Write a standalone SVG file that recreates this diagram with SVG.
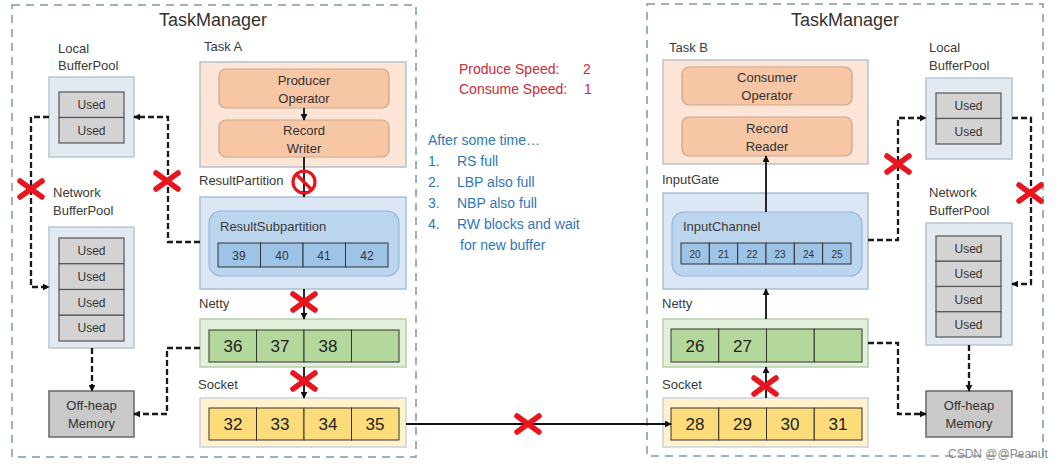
<svg xmlns="http://www.w3.org/2000/svg" width="1062" height="469" viewBox="0 0 1062 469">
<defs>
<marker id="ah" viewBox="0 0 10 10" refX="9" refY="5" markerWidth="7" markerHeight="7" markerUnits="userSpaceOnUse" orient="auto"><path d="M0,0 L10,5 L0,10 z" fill="#111"/></marker>
<g id="xmark"><path d="M-11,-8 L11,8 M-11,8 L11,-8" stroke="#e8151f" stroke-width="5.5" stroke-linecap="round"/></g>
</defs>
<style>
text{font-family:"Liberation Sans",Arial,sans-serif;fill:#333}
.tm{fill:none;stroke:#7e97ad;stroke-width:1.5;stroke-dasharray:8,6}
.title{font-size:18px;fill:#333}
.lbl{font-size:13px;fill:#3a3a3a}
.pool{fill:#e3e9f1;stroke:#b7c5d4;stroke-width:1.5}
.used{fill:#d3d3d3;stroke:#555;stroke-width:1.2}
.ut{font-size:12px;text-anchor:middle;fill:#333}
.task{fill:#fce4d6;stroke:#b8c2cc;stroke-width:1.5}
.op{fill:#f7c6a5;stroke:#c9a58c;stroke-width:1.2}
.opt{font-size:13px;text-anchor:middle;fill:#333}
.rp{fill:#dce6f4;stroke:#a8bfd6;stroke-width:1.5}
.rs{fill:#bcd5ee;stroke:#93b6d8;stroke-width:1.2}
.rc{fill:#9dc3e6;stroke:#333;stroke-width:1}
.rct{font-size:12px;text-anchor:middle;fill:#333}
.ic{font-size:10px;text-anchor:middle;fill:#333}
.nb{fill:#e2efda;stroke:#b6cfa7;stroke-width:1.5}
.nc{fill:#b4d89c;stroke:#333;stroke-width:1}
.sb{fill:#fff2cc;stroke:#c8d2dc;stroke-width:1.5}
.sc{fill:#fcdc7a;stroke:#333;stroke-width:1}
.num{font-size:17px;text-anchor:middle;fill:#222}
.off{fill:#c9c9c9;stroke:#666;stroke-width:1.5}
.offt{font-size:13px;text-anchor:middle;fill:#333}
.solid{fill:none;stroke:#111;stroke-width:1.8}
.dash{fill:none;stroke:#1a1a1a;stroke-width:2.3;stroke-dasharray:6,3}
.red{font-size:14px;fill:#cc2a36}
.blue{font-size:14px;fill:#2f77b8}
</style>
<rect width="1062" height="469" fill="#fff"/>

<g id="taskmanagerA">
<rect class="tm" x="12" y="5" width="404" height="452"/>
<text class="title" x="213" y="26" text-anchor="middle">TaskManager</text>
</g>
<g id="taskmanagerB">
<rect class="tm" x="647" y="4" width="396" height="452"/>
<text class="title" x="845" y="26" text-anchor="middle">TaskManager</text>
</g>

<g id="localBufferPoolA">
<text class="lbl" x="58" y="53">Local</text>
<text class="lbl" x="58" y="70">BufferPool</text>
<rect class="pool" x="49" y="77" width="85" height="80"/>
<rect class="used" x="59" y="92" width="65" height="25.5"/>
<rect class="used" x="59" y="117.5" width="65" height="25.5"/>
<text class="ut" x="91.5" y="109">Used</text>
<text class="ut" x="91.5" y="134.5">Used</text>
</g>

<g id="networkBufferPoolA">
<text class="lbl" x="53" y="197">Network</text>
<text class="lbl" x="53" y="215">BufferPool</text>
<rect class="pool" x="49" y="227" width="85" height="121"/>
<rect class="used" x="59" y="238" width="65" height="25.75"/>
<rect class="used" x="59" y="263.75" width="65" height="25.75"/>
<rect class="used" x="59" y="289.5" width="65" height="25.75"/>
<rect class="used" x="59" y="315.25" width="65" height="25.75"/>
<text class="ut" x="91.5" y="255">Used</text>
<text class="ut" x="91.5" y="281">Used</text>
<text class="ut" x="91.5" y="306.5">Used</text>
<text class="ut" x="91.5" y="332">Used</text>
</g>

<g id="offHeapA">
<rect class="off" x="49" y="391" width="85" height="46"/>
<text class="offt" x="91.5" y="410">Off-heap</text>
<text class="offt" x="91.5" y="428">Memory</text>
</g>

<g id="taskA">
<text class="lbl" x="204" y="51">Task A</text>
<rect class="task" x="200" y="62" width="206" height="105"/>
<rect class="op" x="219" y="69" width="170" height="39" rx="7"/>
<text class="opt" x="304" y="85">Producer</text>
<text class="opt" x="304" y="103">Operator</text>
<rect class="op" x="219" y="120" width="170" height="37" rx="7"/>
<text class="opt" x="304" y="135">Record</text>
<text class="opt" x="304" y="153">Writer</text>
</g>

<g id="resultPartitionA">
<text class="lbl" x="199" y="185">ResultPartition</text>
<rect class="rp" x="200" y="197" width="206" height="92"/>
<rect class="rs" x="209" y="211" width="190" height="65" rx="12"/>
<text class="lbl" x="220" y="231">ResultSubpartition</text>
<rect class="rc" x="218" y="243" width="42.5" height="24"/>
<rect class="rc" x="260.5" y="243" width="42.5" height="24"/>
<rect class="rc" x="303" y="243" width="42.5" height="24"/>
<rect class="rc" x="345.5" y="243" width="42.5" height="24"/>
<text class="rct" x="239" y="259.5">39</text>
<text class="rct" x="282" y="259.5">40</text>
<text class="rct" x="324" y="259.5">41</text>
<text class="rct" x="367" y="259.5">42</text>
</g>

<g id="nettyA">
<text class="lbl" x="199" y="308">Netty</text>
<rect class="nb" x="200" y="319" width="206" height="48"/>
<rect class="nc" x="209" y="330" width="47.5" height="32"/>
<rect class="nc" x="256.5" y="330" width="47.5" height="32"/>
<rect class="nc" x="304" y="330" width="47.5" height="32"/>
<rect class="nc" x="351.5" y="330" width="47.5" height="32"/>
<text class="num" x="233" y="352">36</text>
<text class="num" x="280" y="352">37</text>
<text class="num" x="328" y="352">38</text>
</g>

<g id="socketA">
<text class="lbl" x="198" y="389">Socket</text>
<rect class="sb" x="200" y="398" width="206" height="49"/>
<rect class="sc" x="209" y="408" width="47.5" height="32"/>
<rect class="sc" x="256.5" y="408" width="47.5" height="32"/>
<rect class="sc" x="304" y="408" width="47.5" height="32"/>
<rect class="sc" x="351.5" y="408" width="47.5" height="32"/>
<text class="num" x="233" y="430">32</text>
<text class="num" x="280" y="430">33</text>
<text class="num" x="328" y="430">34</text>
<text class="num" x="375" y="430">35</text>
</g>

<g id="notes">
<text class="red" x="459" y="74">Produce Speed:</text>
<text class="red" x="583" y="74">2</text>
<text class="red" x="459" y="94">Consume Speed:</text>
<text class="red" x="584" y="94">1</text>
<text class="blue" x="428" y="145">After some time…</text>
<text class="blue" x="428" y="166">1.</text><text class="blue" x="457" y="166">RS full</text>
<text class="blue" x="428" y="187">2.</text><text class="blue" x="457" y="187">LBP also full</text>
<text class="blue" x="428" y="208">3.</text><text class="blue" x="457" y="208">NBP also full</text>
<text class="blue" x="428" y="229">4.</text><text class="blue" x="457" y="229">RW blocks and wait</text>
<text class="blue" x="460" y="250">for new buffer</text>
</g>

<g id="taskB">
<text class="lbl" x="669" y="52">Task B</text>
<rect class="task" x="663" y="60" width="205" height="104"/>
<rect class="op" x="682" y="67" width="170" height="38" rx="7"/>
<text class="opt" x="767" y="82">Consumer</text>
<text class="opt" x="767" y="100">Operator</text>
<rect class="op" x="682" y="117" width="170" height="39" rx="7"/>
<text class="opt" x="767" y="133">Record</text>
<text class="opt" x="767" y="151">Reader</text>
</g>

<g id="inputGateB">
<text class="lbl" x="662" y="184">InputGate</text>
<rect class="rp" x="663" y="193" width="205" height="96"/>
<rect class="rs" x="672" y="212" width="190" height="64" rx="12"/>
<text class="lbl" x="683" y="231">InputChannel</text>
<rect class="rc" x="681" y="243" width="28.33" height="21"/>
<rect class="rc" x="709.33" y="243" width="28.33" height="21"/>
<rect class="rc" x="737.67" y="243" width="28.33" height="21"/>
<rect class="rc" x="766" y="243" width="28.33" height="21"/>
<rect class="rc" x="794.33" y="243" width="28.33" height="21"/>
<rect class="rc" x="822.67" y="243" width="28.33" height="21"/>
<text class="ic" x="695" y="257.5">20</text>
<text class="ic" x="723.5" y="257.5">21</text>
<text class="ic" x="752" y="257.5">22</text>
<text class="ic" x="780" y="257.5">23</text>
<text class="ic" x="808.5" y="257.5">24</text>
<text class="ic" x="837" y="257.5">25</text>
</g>

<g id="nettyB">
<text class="lbl" x="662" y="308">Netty</text>
<rect class="nb" x="663" y="319" width="205" height="48"/>
<rect class="nc" x="671" y="329" width="47.75" height="33"/>
<rect class="nc" x="718.75" y="329" width="47.75" height="33"/>
<rect class="nc" x="766.5" y="329" width="47.75" height="33"/>
<rect class="nc" x="814.25" y="329" width="47.75" height="33"/>
<text class="num" x="695" y="352">26</text>
<text class="num" x="742.5" y="352">27</text>
</g>

<g id="socketB">
<text class="lbl" x="662" y="389">Socket</text>
<rect class="sb" x="663" y="398" width="205" height="49"/>
<rect class="sc" x="671" y="408" width="47.75" height="32"/>
<rect class="sc" x="718.75" y="408" width="47.75" height="32"/>
<rect class="sc" x="766.5" y="408" width="47.75" height="32"/>
<rect class="sc" x="814.25" y="408" width="47.75" height="32"/>
<text class="num" x="695" y="430">28</text>
<text class="num" x="742.5" y="430">29</text>
<text class="num" x="790" y="430">30</text>
<text class="num" x="838" y="430">31</text>
</g>

<g id="localBufferPoolB">
<text class="lbl" x="929" y="52">Local</text>
<text class="lbl" x="929" y="70">BufferPool</text>
<rect class="pool" x="926" y="78" width="86" height="81"/>
<rect class="used" x="936" y="93" width="65" height="25.5"/>
<rect class="used" x="936" y="118.5" width="65" height="25.5"/>
<text class="ut" x="968.5" y="110">Used</text>
<text class="ut" x="968.5" y="135.5">Used</text>
</g>

<g id="networkBufferPoolB">
<text class="lbl" x="929" y="197">Network</text>
<text class="lbl" x="929" y="215">BufferPool</text>
<rect class="pool" x="926" y="223" width="86" height="122"/>
<rect class="used" x="936" y="236" width="65" height="25.25"/>
<rect class="used" x="936" y="261.25" width="65" height="25.25"/>
<rect class="used" x="936" y="286.5" width="65" height="25.25"/>
<rect class="used" x="936" y="311.75" width="65" height="25.25"/>
<text class="ut" x="968.5" y="253">Used</text>
<text class="ut" x="968.5" y="278">Used</text>
<text class="ut" x="968.5" y="303.5">Used</text>
<text class="ut" x="968.5" y="328.5">Used</text>
</g>

<g id="offHeapB">
<rect class="off" x="926" y="391" width="86" height="46"/>
<text class="offt" x="969" y="410">Off-heap</text>
<text class="offt" x="969" y="428">Memory</text>
</g>

<g id="connectors">
<path class="solid" d="M304,108 V120" marker-end="url(#ah)"/>
<path class="solid" d="M304,157 V197" marker-end="url(#ah)"/>
<path class="solid" d="M304,289 V319" marker-end="url(#ah)"/>
<path class="solid" d="M304,367 V398" marker-end="url(#ah)"/>
<path class="solid" d="M406,424 H671" marker-end="url(#ah)"/>
<path class="dash" d="M49,117 H31 V287 H49" marker-end="url(#ah)"/>
<path class="dash" d="M200,242 H168 V117 H134" marker-end="url(#ah)"/>
<path class="dash" d="M92,348 V391" marker-end="url(#ah)"/>
<path class="dash" d="M200,348 H167 V414 H134" marker-end="url(#ah)"/>
<path class="solid" d="M766,212 V156" marker-end="url(#ah)"/>
<path class="solid" d="M766,319 V289" marker-end="url(#ah)"/>
<path class="solid" d="M766,398 V367" marker-end="url(#ah)"/>
<path class="dash" d="M868,240 H898 V118 H926" marker-end="url(#ah)"/>
<path class="dash" d="M1012,118 H1031 V284 H1012" marker-end="url(#ah)"/>
<path class="dash" d="M969,345 V391" marker-end="url(#ah)"/>
<path class="dash" d="M868,343 H898 V414 H926" marker-end="url(#ah)"/>
</g>

<g id="blocks">
<use href="#xmark" x="31" y="189"/>
<use href="#xmark" x="167" y="181"/>
<use href="#xmark" x="304" y="302"/>
<use href="#xmark" x="304" y="381"/>
<use href="#xmark" x="528" y="424"/>
<use href="#xmark" x="898" y="164"/>
<use href="#xmark" x="1030" y="193"/>
<use href="#xmark" x="765" y="386"/>
<g id="prohibited">
<circle cx="304" cy="182" r="11" fill="none" stroke="#e8151f" stroke-width="3.2"/>
<path d="M296.5,174.5 L311.5,189.5" stroke="#e8151f" stroke-width="3.2"/>
</g>
</g>

<text x="948" y="458" style="font-size:12px;fill:#8a8a8a">CSDN @@Peanut</text>
</svg>
